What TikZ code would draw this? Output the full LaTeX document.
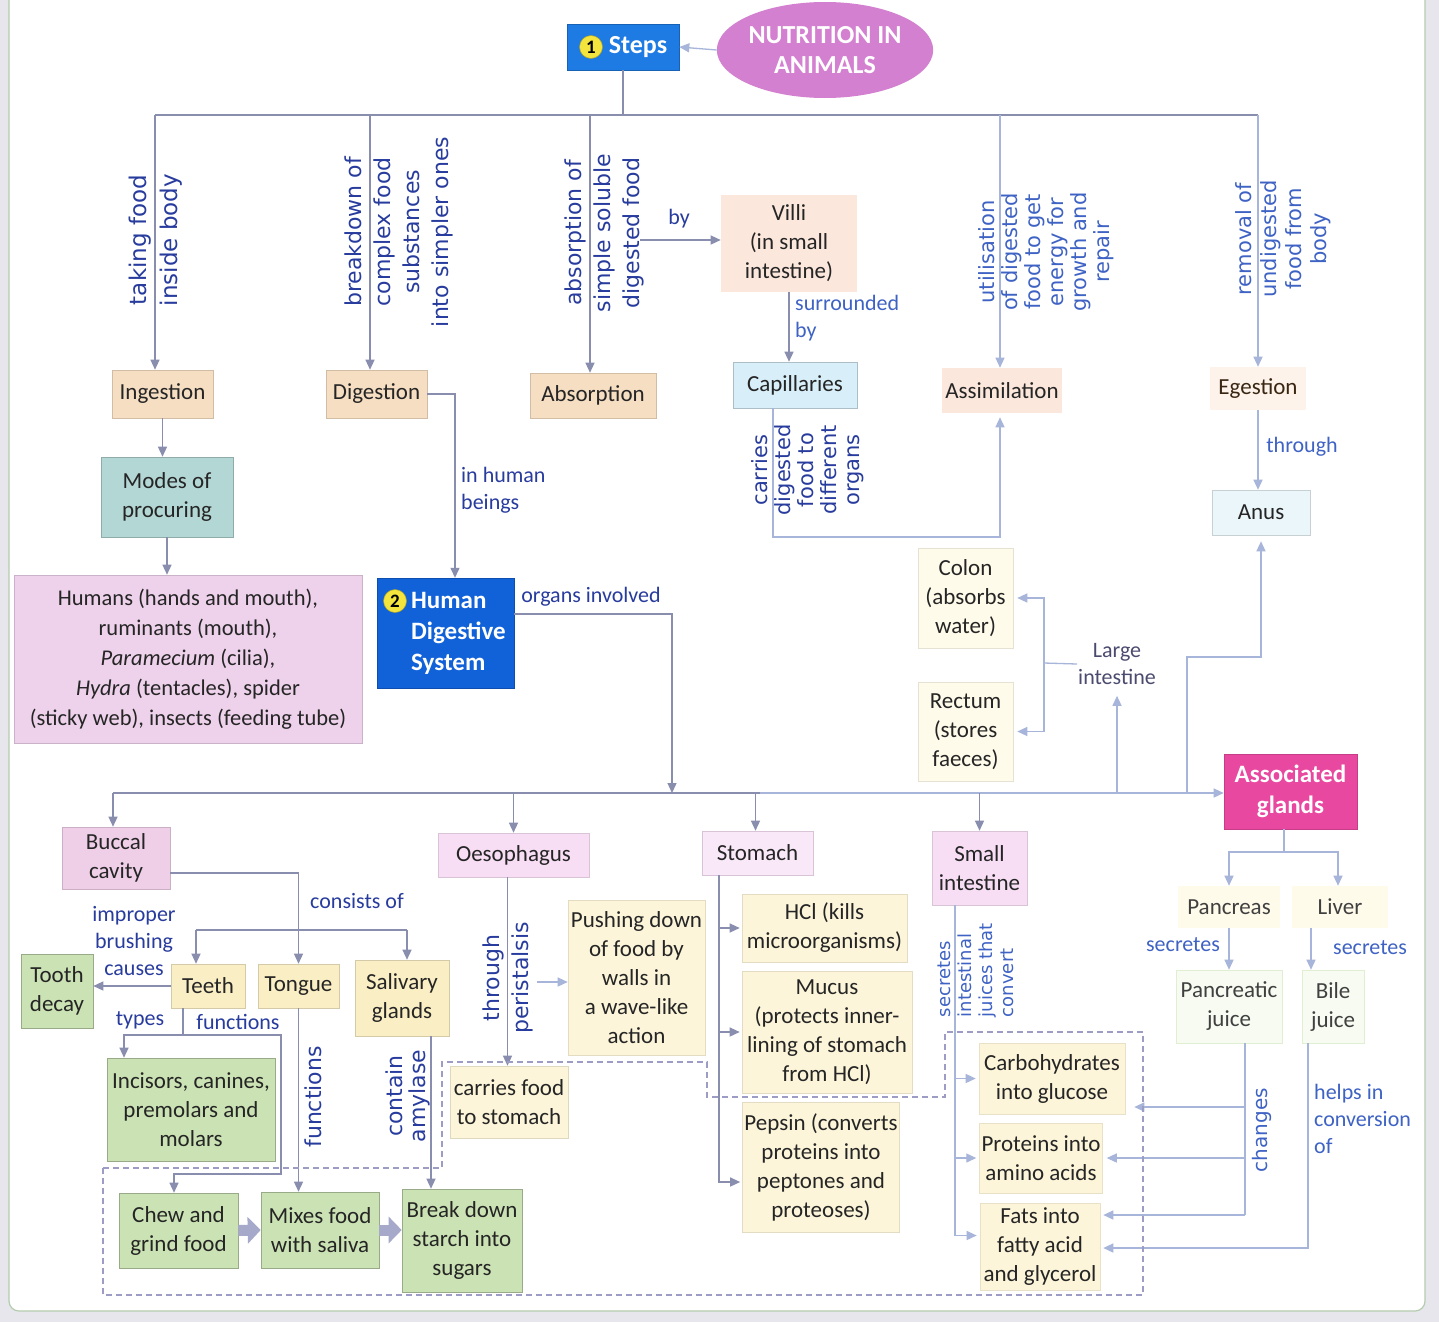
\documentclass[tikz,border=0pt]{standalone}
\usepackage{fontspec}
\setmainfont{Carlito}
\newfontfamily\vfont{DejaVu Sans}
\usetikzlibrary{arrows.meta,shapes.geometric,calc}
\definecolor{bgc}{HTML}{E6E6EC}
\definecolor{framec}{HTML}{B5CBAE}
\definecolor{peach}{HTML}{F6DEC3}
\definecolor{peachL}{HTML}{FCE7DC}
\definecolor{peachXL}{HTML}{FDF3EA}
\definecolor{capblue}{HTML}{D8EEF8}
\definecolor{anusblue}{HTML}{EAF6FA}
\definecolor{modes}{HTML}{B3D7D5}
\definecolor{humans}{HTML}{EED2EB}
\definecolor{hdsblue}{HTML}{1162D9}
\definecolor{stepsblue}{HTML}{1E7BE3}
\definecolor{orchid}{HTML}{D480D0}
\definecolor{organpink}{HTML}{F7DEF4}
\definecolor{buccalc}{HTML}{EFCFE8}
\definecolor{tyellow}{HTML}{FAEEC4}
\definecolor{cream}{HTML}{FCF5D9}
\definecolor{creamL}{HTML}{FFFBEA}
\definecolor{leaf}{HTML}{CBE3B4}
\definecolor{assocc}{HTML}{E8489F}
\definecolor{juice}{HTML}{F7FBF1}
\definecolor{lnL}{HTML}{8A8EAE}
\definecolor{lnR}{HTML}{A8B5DA}
\definecolor{lbl}{HTML}{283C9E}
\definecolor{lblR}{HTML}{3F63C4}
\definecolor{txt}{HTML}{252525}
\definecolor{badgey}{HTML}{F3E43E}
\definecolor{dashc}{HTML}{9C9CC4}
\definecolor{fatc}{HTML}{A7A9CB}
\definecolor{largec}{HTML}{4B4B70}
\newcommand\fA{\fontsize{23}{29}\selectfont}
\newcommand\fL{\fontsize{22}{27}\selectfont}
\newcommand\fT{\fontsize{26}{30}\selectfont\bfseries}
\newcommand\fV{\vfont\fontsize{22}{29}\selectfont}
\newcommand\fVs{\vfont\fontsize{21}{23}\selectfont}
\newcommand\fVm{\vfont\fontsize{21}{25}\selectfont}
\newcommand\fVa{\vfont\fontsize{22}{23}\selectfont}
\newcommand\fVt{\vfont\fontsize{18}{21}\selectfont}
\newcommand\fVc{\vfont\fontsize{20}{24}\selectfont}
\begin{document}
\begin{tikzpicture}[x=1pt,y=-1pt,
 line/.style={draw=lnL, line width=1.3pt},
 arr/.style={line, -{Triangle[width=9pt,length=10pt]}},
 lineR/.style={draw=lnR, line width=1.3pt},
 arrR/.style={lineR, -{Triangle[width=9pt,length=10pt]}},
 bx/.style={rectangle, inner sep=2pt, align=center, font=\fA, text=txt, line width=0.6pt},
 sz/.style 2 args={minimum width=#1pt, minimum height=#2pt},
 lb/.style={font=\fL, text=lbl, inner sep=1pt},
 lbR/.style={font=\fL, text=lblR, inner sep=1pt},
 rl/.style={rotate=90, font=\fV, text=lbl, align=center, inner sep=1pt},
 badge/.style={circle, fill=badgey, draw=badgey!70!black, line width=0.5pt, inner sep=0pt, minimum size=23pt, font=\fontsize{19}{19}\selectfont\bfseries, text=black},
 fat/.style={draw=fatc, line width=11pt, -{Triangle[width=26pt,length=13pt]}},
]
\useasboundingbox (0,0) rectangle (1439,1322);
\fill[bgc] (0,0) rectangle (1439,1322);
\draw[draw=framec, line width=1.2pt, fill=white, rounded corners=10pt] (9,-20) rectangle (1425,1311);

% ---------- top ----------
\node[ellipse, fill=orchid, sz={208}{96}, inner sep=0pt, align=center, font=\fT, text=white] (title) at (825,50) {NUTRITION IN\\ANIMALS};
\node[bx, fill=stepsblue, draw=stepsblue!80!black, sz={112}{46}, font=\fT, text=white] (steps) at (623,47) {\hspace*{30pt}Steps};
\node[badge] (badge1) at (591,47) {1};

\node[bx, fill=peach, draw=peach!85!black, sz={101}{48}] (ingestion) at (162.5,394) {Ingestion};
\node[bx, fill=peach, draw=peach!85!black, sz={101}{48}] (digestion) at (376.5,394) {Digestion};
\node[bx, fill=peach, draw=peach!85!black, sz={126}{45}] (absorption) at (593,395.5) {Absorption};
\node[bx, fill=peachL, sz={136}{97}] (villi) at (789,243) {Villi\\(in small\\intestine)};
\node[bx, fill=capblue, draw=capblue!80!black, sz={124}{46}] (capillaries) at (795,385) {Capillaries};
\node[bx, fill=peachL, sz={120}{45}] (assimilation) at (1002,390.5) {Assimilation};
\node[bx, fill=peachXL, sz={96}{43}, text=black!70!brown] (egestion) at (1258,388.5) {Egestion};
\node[bx, fill=anusblue, draw=anusblue!85!black, sz={98}{45}] (anus) at (1261,512.5) {Anus};
\node[bx, fill=modes, draw=modes!80!black, sz={132}{80}] (modes) at (167,497) {Modes of\\procuring};
\node[bx, fill=humans, draw=humans!85!black, sz={348}{168}, font=\fontsize{22.5}{30}\selectfont] (humans) at (188,659)
 {Humans (hands and mouth),\\ruminants (mouth),\\\textit{Paramecium} (cilia),\\\textit{Hydra} (tentacles), spider\\(sticky web), insects (feeding tube)};
\node[rectangle, fill=hdsblue, draw=hdsblue!80!black, sz={137}{110}] (hds) at (445.5,633) {};
\node[align=left, inner sep=0pt, anchor=west, font=\fontsize{25}{31}\selectfont\bfseries, text=white] (hdstext) at (411,633) {Human\\Digestive\\System};
\node[badge] (badge2) at (395,601) {2};

\node[bx, fill=creamL, draw=creamL!90!black, sz={95}{100}] (colon) at (965.5,598) {Colon\\(absorbs\\water)};
\node[bx, fill=creamL, draw=creamL!90!black, sz={95}{99}] (rectum) at (965.5,731.5) {Rectum\\(stores\\faeces)};
\node[font=\fL, text=largec, align=center, inner sep=1pt] (large) at (1117,664) {Large\\intestine};
\node[bx, fill=assocc, draw=assocc!85!black, sz={133}{75}, font=\fontsize{25}{31}\selectfont\bfseries, text=white] (assoc) at (1290.5,791.5) {Associated\\glands};

% ---------- organs ----------
\node[bx, fill=buccalc, draw=buccalc!85!black, sz={108}{62}] (buccal) at (116,858) {Buccal\\cavity};
\node[bx, fill=organpink, draw=organpink!88!black, sz={151}{44}] (oeso) at (513.5,855) {Oesophagus};
\node[bx, fill=organpink!70!white, draw=organpink!88!black, sz={111}{44}] (stomach) at (757.5,853) {Stomach};
\node[bx, fill=organpink, draw=organpink!88!black, sz={95}{74}] (smallint) at (979.5,868) {Small\\intestine};

\node[bx, fill=tyellow, draw=tyellow!85!black, sz={74}{44}] (teeth) at (208,986) {Teeth};
\node[bx, fill=tyellow, draw=tyellow!85!black, sz={81}{44}] (tongue) at (298.5,986) {Tongue};
\node[bx, fill=tyellow, draw=tyellow!85!black, sz={94}{76}] (salivary) at (402,998) {Salivary\\glands};
\node[bx, fill=leaf, draw=leaf!75!black, sz={72}{74}] (tooth) at (57,991) {Tooth\\decay};
\node[bx, fill=leaf, draw=leaf!75!black, sz={168}{103}] (incisors) at (191,1109.5) {Incisors, canines,\\premolars and\\molars};
\node[bx, fill=leaf, draw=leaf!75!black, sz={119}{75}] (chew) at (178.5,1230.5) {Chew and\\grind food};
\node[bx, fill=leaf, draw=leaf!75!black, sz={118}{76}] (mixes) at (320,1230) {Mixes food\\with saliva};
\node[bx, fill=leaf, draw=leaf!75!black, sz={120}{103}] (brk) at (462,1240.5) {Break down\\starch into\\sugars};

\node[bx, fill=cream, draw=cream!90!black, sz={137}{155}] (pushing) at (636.5,977.5) {Pushing down\\of food by\\walls in\\a wave-like\\action};
\node[bx, fill=cream, draw=cream!88!black, sz={118}{72}] (carries) at (509,1102) {carries food\\to stomach};
\node[bx, fill=cream, draw=cream!90!black, sz={165}{68}] (hcl) at (824.5,928) {HCl (kills\\microorganisms)};
\node[bx, fill=cream, draw=cream!90!black, sz={170}{122}] (mucus) at (827,1032) {Mucus\\(protects inner-\\lining of stomach\\from HCl)};
\node[bx, fill=cream, draw=cream!90!black, sz={156}{130}] (pepsin) at (821,1167) {Pepsin (converts\\proteins into\\peptones and\\proteoses)};
\node[bx, fill=cream, draw=cream!92!black, sz={146}{71}] (carbo) at (1052,1078.5) {Carbohydrates\\into glucose};
\node[bx, fill=cream, draw=cream!92!black, sz={122}{70}] (proteins) at (1041,1158) {Proteins into\\amino acids};
\node[bx, fill=cream, draw=cream!92!black, sz={120}{87}] (fats) at (1040,1246.5) {Fats into\\fatty acid\\and glycerol};

\node[bx, fill=creamL, sz={102}{42}, text=black!75] (pancreas) at (1229,907) {Pancreas};
\node[bx, fill=creamL, sz={96}{42}, text=black!75] (liver) at (1340,907) {Liver};
\node[bx, fill=juice, draw=leaf!60!white, sz={106}{73}, text=black!75] (pj) at (1229,1006.5) {Pancreatic\\juice};
\node[bx, fill=juice, draw=leaf!60!white, sz={62}{73}, text=black!75] (bile) at (1333,1006.5) {Bile\\juice};

% ---------- top connectors ----------
\draw[arrR] (title.west) -- (steps.east);
\coordinate (b1) at (155,115);
\coordinate (b2) at (370,115);
\coordinate (b3) at (590,115);
\coordinate (b4) at (1000,115);
\coordinate (b5) at (1258,115);
\draw[line] (steps.south) -- (steps.south |- b1);
\draw[line] (b1) -- (b5);
\draw[arr] (b1) -- (b1 |- ingestion.north);
\draw[arr] (b2) -- (b2 |- digestion.north);
\draw[arr] (b3) -- (b3 |- absorption.north);
\draw[arrR] (b4) -- (b4 |- assimilation.north);
\draw[arrR] (b5) -- (b5 |- egestion.north);

\coordinate (byS) at (640,240);
\draw[arr] (byS) -- (byS -| villi.west);
\draw[arr] (villi.south) -- (villi.south |- capillaries.north);
\coordinate (capB) at (773,537);
\draw[arrR, shorten >=4pt] (capillaries.south -| capB) -- (capB) -| (b4 |- assimilation.south);
\draw[arrR] (egestion.south) -- (egestion.south |- anus.north);

\draw[arr] (ingestion.south) -- (ingestion.south |- modes.north);
\draw[arr] (modes.south) -- (modes.south |- humans.north);
\draw[arr] (digestion.east) -| ([xshift=9.5pt]hds.north);
\coordinate (m5) at (672,793);
\draw[arr] ([yshift=19pt]hds.east) -| (m5);

% ---------- main bar ----------
\coordinate (mL) at (113,793);
\coordinate (mM) at (760,793);
\draw[line] (mL) -- (mM);
\draw[arrR] (mM) -- (mM -| assoc.west);
\draw[arr] (mL) -- (mL |- buccal.north);
\draw[arr] (mL -| oeso.north) -- (oeso.north);
\draw[arr] ([xshift=-2pt]mL -| stomach.north) -- ([xshift=-2pt]stomach.north);
\draw[arr] (mL -| smallint.north) -- (smallint.north);
\draw[arrR] (mL -| large.south) -- ([yshift=-10pt]large.south);
\coordinate (an1) at (1187,657);
\draw[arrR, shorten >=6pt] (mL -| an1) -- (an1) -| (anus.south);
\coordinate (lj) at (1044,663);
\draw[lineR] (large.west) -- (lj);
\draw[arrR, shorten >=4pt] (lj) |- (colon.east);
\draw[arrR, shorten >=4pt] (lj) |- (rectum.east);

% ---------- associated glands ----------
\coordinate (aj) at (1284,852);
\draw[lineR] (assoc.south -| aj) -- (aj);
\draw[arrR] (aj) -| (pancreas.north);
\draw[arrR] (aj) -| ([xshift=-2pt]liver.north);
\draw[arrR] (pancreas.south) -- (pancreas.south |- pj.north);
\draw[arrR] ([xshift=-29pt]liver.south) -- ([xshift=-29pt]liver.south |- bile.north);
\coordinate (pc) at (1245,1215);
\coordinate (pc1) at (1245,1107);
\coordinate (pc2) at (1245,1158);
\draw[lineR] (pj.south -| pc) -- (pc);
\draw[arrR, shorten >=9pt] (pc1) -- (pc1 -| carbo.east);
\draw[arrR, shorten >=4pt] (pc2) -- (pc2 -| proteins.east);
\draw[arrR, shorten >=3pt] (pc) -- (pc -| fats.east);
\coordinate (bc) at (1308,1248);
\draw[arrR, shorten >=3pt] (bile.south -| bc) -- (bc) -- (bc -| fats.east);

% ---------- small intestine ----------
\coordinate (si0) at (955,905);
\draw[arrR, shorten >=3pt] (si0) |- (carbo.west);
\draw[arrR, shorten >=3pt] (si0) |- (proteins.west);
\draw[arrR, shorten >=3pt] (si0) |- ([yshift=11pt]fats.west);

% ---------- stomach ----------
\coordinate (st0) at (719,875);
\draw[arr, shorten >=2pt] (st0) |- (hcl.west);
\draw[arr, shorten >=2pt] (st0) |- (mucus.west);
\draw[arr, shorten >=2pt] (st0) |- ([yshift=-15pt]pepsin.west);

% ---------- oesophagus ----------
\draw[arr] ([xshift=-6pt]oeso.south) -- ([xshift=-6pt]oeso.south |- carries.north);
\coordinate (ps) at (537,982);
\draw[arrR] (ps) -- (ps -| pushing.west);

% ---------- buccal cavity ----------
\draw[arr] ([yshift=-15pt]buccal.east) -| (tongue.north);
\coordinate (c1) at (196,930);
\coordinate (c2) at (407,930);
\draw[line] (c1) -- (c2);
\draw[arr] (c1) -- (c1 |- teeth.north);
\draw[arr] (c2) -- (c2 |- salivary.north);
\draw[arr] (teeth.west) -- (teeth.west -| tooth.east);
\coordinate (tj) at (183,1035);
\coordinate (ti) at (124,1035);
\coordinate (tf) at (281,1035);
\coordinate (tf2) at (281,1174);
\coordinate (tf3) at (174,1174);
\draw[line] (teeth.south -| tj) -- (tj);
\draw[arr] (tj) -- (ti) -- (ti |- incisors.north);
\draw[arr] (tj) -- (tf) -- (tf2) -- (tf3) -- (tf3 |- chew.north);
\draw[arr] (tongue.south) -- (tongue.south |- mixes.north);
\coordinate (sv) at (431,1036);
\draw[arr] (salivary.south -| sv) -- (sv |- brk.north);
\draw[fat] (chew.east) -- (mixes.west);
\draw[fat] (mixes.east) -- (mixes.east -| brk.west);

% ---------- dashed outline ----------
\draw[dashc, line width=1.1pt, dash pattern=on 6pt off 4pt]
 (103,1168) -- (442,1168) -- (442,1062) -- (707,1062) -- (707,1097) -- (945,1097)
 -- (945,1032) -- (1143,1032) -- (1143,1295) -- (103,1295) -- cycle;

% ---------- labels ----------
\node[rl, font=\vfont\fontsize{23}{31}\selectfont] at (156,240) {taking food\\inside body};
\node[rl] at (399,232) {breakdown of\\complex food\\substances\\into simpler ones};
\node[rl] at (604,233) {absorption of\\simple soluble\\digested food};
\node[rl, text=lblR, font=\fVs] at (1046,252) {utilisation\\of digested\\food to get\\energy for\\growth and\\repair};
\node[rl, text=lblR, font=\fVm] at (1283,239) {removal of\\undigested\\food from\\body};
\node[rl, font=\fVs] at (808,470) {carries\\digested\\food to\\different\\organs};
\node[rl] at (508,978) {through\\peristalsis};
\node[rl] at (313,1097) {functions};
\node[rl, font=\fVa] at (408,1096) {contain\\amylase};
\node[rl, text=lblR, font=\fVt, align=left] at (976,970) {secretes\\intestinal\\juices that\\convert};
\node[rl, text=lblR, font=\fVc] at (1262,1130) {changes};

\node[lb] at (679,219) {by};
\node[lbR, align=left, anchor=north west] at (794,294) {surrounded\\by};
\node[lb, align=left, anchor=north west] at (460,466) {in human\\beings};
\node[lb] at (591,597) {organs involved};
\node[lbR] at (1302,447) {through};
\node[lb] at (357,901) {consists of};
\node[lb, align=center] at (134,941) {improper\\brushing\\causes};
\node[lb] at (140,1020) {types};
\node[lb] at (238,1022) {functions};
\node[lbR] at (1183,945) {secretes};
\node[lbR] at (1370,948) {secretes};
\node[lbR, align=left, anchor=north west] at (1313,1083) {helps in\\conversion\\of};
\end{tikzpicture}
\end{document}
